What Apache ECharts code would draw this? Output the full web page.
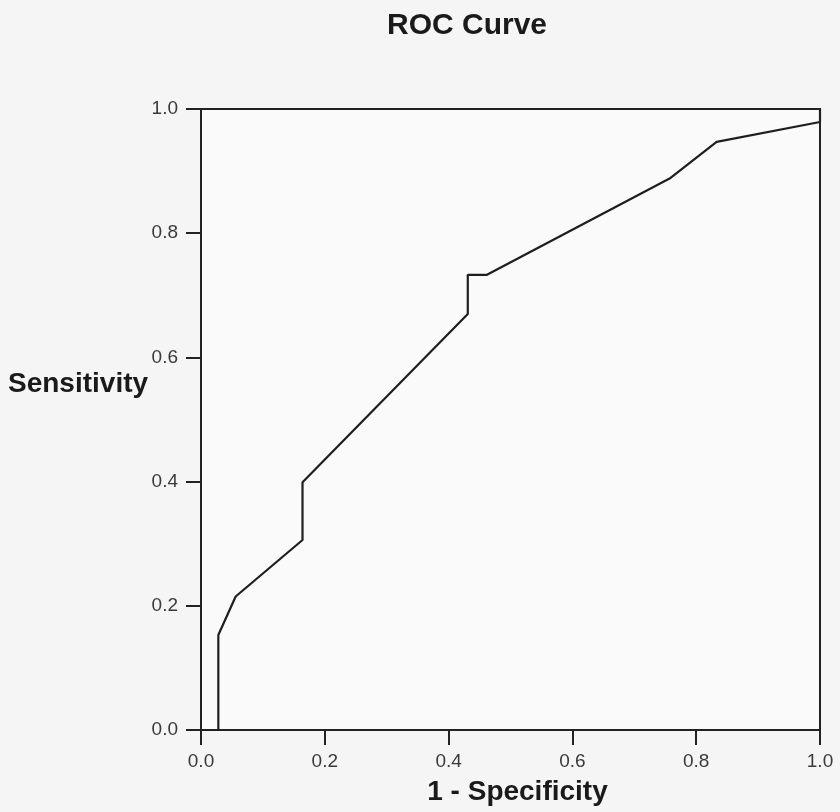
<!DOCTYPE html>
<html>
<head>
<meta charset="utf-8">
<script src="https://cdn.jsdelivr.net/npm/echarts@6/dist/echarts.min.js"></script>
<style>
  html, body { margin: 0; padding: 0; background: #f5f5f5; }
  #main { width: 840px; height: 812px; }
</style>
</head>
<body>
<div id="main"></div>
<script>
// ROC points: 1 - specificity vs sensitivity
var fpr = [0, 0.028, 0.028, 0.056, 0.164, 0.164, 0.431, 0.431, 0.462, 0.757, 0.833, 1.0, 1.0];
var tpr = [0, 0, 0.153, 0.215, 0.306, 0.399, 0.670, 0.733, 0.733, 0.888, 0.947, 0.979, 1.0];
var tickLabels = ['0.0', '0.2', '0.4', '0.6', '0.8', '1.0'];

var fontFamily = '"Liberation Sans", Arial, sans-serif';

var points = fpr.map(function (x, i) { return [x, tpr[i]]; });

function axisCommon() {
    return {
        type: 'value',
        min: 0,
        max: 1,
        interval: 0.2,
        splitLine: { show: false },
        axisLine: { show: true, onZero: false, lineStyle: { color: '#222', width: 2 } },
        axisTick: { show: true, length: 15, lineStyle: { color: '#222', width: 2 } },
        axisLabel: {
            color: '#3a3a3a',
            fontSize: 19,
            fontFamily: fontFamily,
            formatter: function (v) { return tickLabels[Math.round(v / 0.2)]; }
        }
    };
}

var myChart = echarts.init(document.getElementById('main'));

var xAxis = axisCommon();
xAxis.name = '1 - Specificity';
xAxis.nameLocation = 'middle';
xAxis.nameGap = 62;
xAxis.nameTextStyle = { color: '#1a1a1a', fontSize: 28, fontWeight: 'bold', fontFamily: fontFamily, align: 'center', verticalAlign: 'middle', padding: [0, 0, 0, 14] };
xAxis.axisLabel.margin = 22;

var yAxis = axisCommon();
yAxis.axisLabel.margin = 23;

var option = {
    backgroundColor: '#f5f5f5',
    animation: false,
    title: {
        text: 'ROC Curve',
        left: 382,
        top: 6,
        textStyle: { color: '#1a1a1a', fontSize: 30, fontWeight: 'bold', fontFamily: fontFamily }
    },
    grid: {
        left: 201,
        right: 20,
        top: 109,
        bottom: 82,
        show: true,
        backgroundColor: '#fafafa',
        borderColor: '#222',
        borderWidth: 2
    },
    xAxis: xAxis,
    yAxis: yAxis,
    graphic: [{
        type: 'text',
        left: 8,
        top: 370,
        style: {
            text: 'Sensitivity',
            fill: '#1a1a1a',
            font: 'bold 28px ' + fontFamily
        }
    }],
    series: [{
        type: 'line',
        data: points,
        symbol: 'none',
        lineStyle: { color: '#1e1e1e', width: 2.2 }
    }]
};
myChart.setOption(option);
</script>
</body>
</html>
